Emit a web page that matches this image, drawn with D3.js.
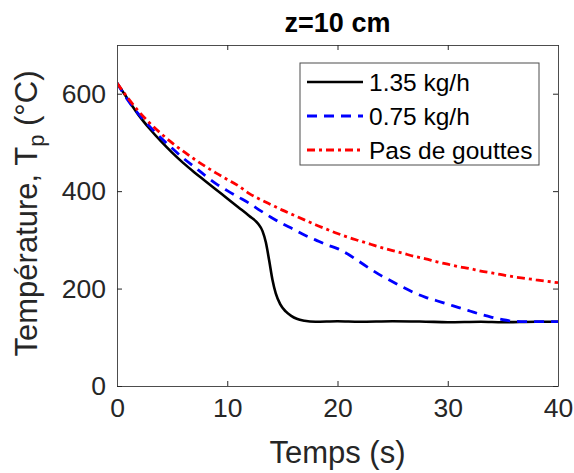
<!DOCTYPE html>
<html>
<head>
<meta charset="utf-8">
<script src="https://cdn.jsdelivr.net/npm/d3@7"></script>
<style>
  body { margin: 0; background: #fff; }
  svg { font-family: "Liberation Sans", Arial, sans-serif; }
</style>
</head>
<body>
<svg id="chart"></svg>
<script>
// Data
const tBlack = [0, 1, 2, 3, 4, 5, 6, 7, 8, 9, 10, 11, 12, 12.8, 13.2, 13.5, 13.8, 14.1, 14.4, 14.8, 15.3, 15.8, 16.3, 17, 18, 20, 22, 25, 28, 30, 33, 35, 38, 40];
const vBlack = [622, 588, 555, 527, 502, 479, 458, 439, 421, 403, 385, 367, 349, 333, 318, 295, 258, 218, 190, 168, 153, 144, 138, 134, 132, 133, 132, 133, 132, 131, 132, 131, 132, 132];

const tBlue = [0, 1, 2, 3, 4, 5, 6, 7, 8, 9, 10, 11, 12, 13, 14, 15, 16, 17, 18, 19, 20, 21, 22, 23, 24, 25, 26, 27, 28, 29, 30, 31, 32, 33, 34, 35, 36, 37, 38, 40];
const vBlue = [622, 586, 557, 532, 509, 488, 468, 450, 432, 415, 401, 388, 375, 360, 346, 333, 322, 310, 300, 290, 282, 270, 255, 240, 226, 214, 202, 191, 182, 175, 168, 161, 154, 147, 141, 136, 133, 132, 132, 132];

const tRed = [0, 1, 2, 3, 4, 5, 6, 7, 8, 9, 10, 11, 12, 13, 14, 15, 16, 17, 18, 19, 20, 21, 22, 23, 24, 25, 26, 27, 28, 29, 30, 31, 32, 33, 34, 35, 36, 37, 38, 39, 40];
const vRed = [622, 591, 563, 539, 518, 499, 482, 466, 451, 437, 424, 411, 395, 383, 372, 361, 351, 341, 331, 322, 313, 305, 298, 291, 284, 278, 272, 266, 261, 255, 250, 245, 241, 236, 232, 228, 224, 221, 218, 215, 212];

const seriesNames = ["1.35 kg/h", "0.75 kg/h", "Pas de gouttes"];
const xTicks = [0, 10, 20, 30, 40];
const yTicks = [0, 200, 400, 600];

const W = 574, H = 473;
const margin = {top: 45, right: 16, bottom: 87, left: 117};
const width = W - margin.left - margin.right,
      height = H - margin.top - margin.bottom;
const ink = "#262626";

const svg = d3.select("#chart").attr("width", W).attr("height", H);
const g = svg.append("g").attr("transform", "translate(" + margin.left + "," + margin.top + ")");

const x = d3.scaleLinear().domain([0, 40]).range([0, width]);
const y = d3.scaleLinear().domain([0, 700]).range([height, 0]);

// Lines
const line = d3.line().x(d => x(d[0])).y(d => y(d[1])).curve(d3.curveMonotoneX);
const styles = [
  {color: "#000000", dash: null, w: 2.6},
  {color: "#0000ff", dash: "10,7", w: 2.8},
  {color: "#ff0000", dash: "8,4,3,4", w: 2.8}
];
const allSeries = [
  d3.zip(tBlack, vBlack),
  d3.zip(tBlue, vBlue),
  d3.zip(tRed, vRed)
];

g.append("clipPath").attr("id", "clip")
  .append("rect").attr("width", width).attr("height", height);

allSeries.forEach((s, i) => {
  g.append("path")
    .datum(s)
    .attr("clip-path", "url(#clip)")
    .attr("fill", "none")
    .attr("stroke", styles[i].color)
    .attr("stroke-width", styles[i].w)
    .attr("stroke-dasharray", styles[i].dash)
    .attr("d", line);
});

// Axes, MATLAB style box with inward ticks
const tickLen = 5;
const styleAxis = sel => {
  sel.attr("font-family", null);
  sel.select(".domain").attr("stroke", "#4d4d4d").attr("stroke-width", 1);
  sel.selectAll(".tick line").attr("stroke", ink);
  sel.selectAll("text").attr("fill", ink).style("font-size", "26.5px");
};

g.append("g")
  .attr("transform", "translate(0," + height + ")")
  .call(d3.axisBottom(x).tickValues(xTicks).tickSize(-tickLen).tickPadding(12).tickSizeOuter(0))
  .call(styleAxis);
g.append("g")
  .call(d3.axisTop(x).tickValues(xTicks).tickSize(-tickLen).tickFormat("").tickSizeOuter(0))
  .call(styleAxis);
g.append("g")
  .call(d3.axisLeft(y).tickValues(yTicks).tickSize(-tickLen).tickPadding(11).tickSizeOuter(0))
  .call(styleAxis);
g.append("g")
  .attr("transform", "translate(" + width + ",0)")
  .call(d3.axisRight(y).tickValues(yTicks).tickSize(-tickLen).tickFormat("").tickSizeOuter(0))
  .call(styleAxis);

// Title
svg.append("text")
  .attr("x", margin.left + width / 2)
  .attr("y", 32)
  .attr("text-anchor", "middle")
  .attr("fill", "#000")
  .style("font-size", "27px")
  .style("font-weight", "bold")
  .text("z=10 cm");

// X label
svg.append("text")
  .attr("x", margin.left + width / 2)
  .attr("y", 463)
  .attr("text-anchor", "middle")
  .attr("fill", ink)
  .style("font-size", "31px")
  .text("Temps (s)");

// Y label
const yl = svg.append("text")
  .attr("transform", "translate(37," + (margin.top + height / 2 - 2) + ") rotate(-90)")
  .attr("text-anchor", "middle")
  .attr("fill", ink)
  .style("font-size", "31px");
yl.append("tspan").text("Température, T");
yl.append("tspan").attr("dy", 7).style("font-size", "22px").text("p");
yl.append("tspan").attr("dy", -7).text(" (°C)");

// Legend
const lg = svg.append("g").attr("transform", "translate(300,63)");
lg.append("rect")
  .attr("width", 239).attr("height", 102)
  .attr("fill", "#fff").attr("stroke", "#4d4d4d").attr("stroke-width", 1);
seriesNames.forEach((name, i) => {
  const cy = 19 + i * 34;
  lg.append("line")
    .attr("x1", 7).attr("x2", 63).attr("y1", cy).attr("y2", cy)
    .attr("stroke", styles[i].color)
    .attr("stroke-width", styles[i].w)
    .attr("stroke-dasharray", styles[i].dash);
  lg.append("text")
    .attr("x", 69).attr("y", cy + 9)
    .attr("fill", "#000")
    .style("font-size", "24.5px")
    .text(name);
});
</script>
</body>
</html>
